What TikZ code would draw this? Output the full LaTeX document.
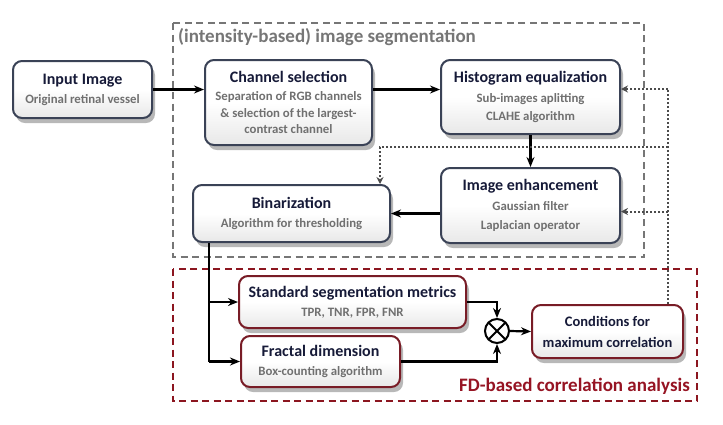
\documentclass[tikz,border=0pt]{standalone}
\usepackage{fontspec}
\setmainfont{Carlito}
\usetikzlibrary{arrows.meta,shadows,calc}
\definecolor{navy}{RGB}{22,26,56}
\definecolor{subgray}{RGB}{112,112,112}
\definecolor{blueborder}{RGB}{58,66,86}
\definecolor{redborder}{RGB}{120,28,38}
\definecolor{reddash}{RGB}{140,22,32}
\definecolor{redtitle}{RGB}{150,20,35}
\definecolor{graydash}{RGB}{118,118,118}
\definecolor{dotgray}{RGB}{75,75,75}
\newcommand{\ttlf}{\fontsize{16}{19}\selectfont\bfseries\color{navy}}
\newcommand{\subf}{\fontsize{12.8}{18}\selectfont\bfseries\color{subgray}}
\tikzset{
  boxbase/.style={rounded corners=9pt, inner sep=0pt, align=center,
    font=\fontsize{12.8}{18}\selectfont,
    top color=white, bottom color=black!9, middle color=white,
    line width=2pt,
    drop shadow={shadow xshift=3pt, shadow yshift=-5pt, fill=black, opacity=0.28}},
  bluebox/.style={boxbase, draw=blueborder},
  redbox/.style={boxbase, draw=redborder},
  arr/.style={line width=2.2pt, -{Stealth[length=10pt,width=8pt]}},
  plain/.style={line width=2.2pt},
  dotarr/.style={dotgray, line width=2pt, dash pattern=on 2pt off 2pt, -{Stealth[length=7pt,width=7pt,fill=dotgray!70]}},
  dotline/.style={dotgray, line width=2pt, dash pattern=on 2pt off 2pt},
  groupbox/.style={line width=1.6pt, dash pattern=on 7pt off 4.5pt},
}
\begin{document}
\begin{tikzpicture}[x=1pt,y=-1pt]
\useasboundingbox (0,0) rectangle (723,424);
\node[fill=white, inner sep=0pt, minimum width=723pt, minimum height=424pt] (bg) at (361.5,212) {};

% group frames
\draw[groupbox, draw=graydash] (173,23) rectangle (644,257);
\node[anchor=west, font=\fontsize{19}{21}\selectfont\bfseries, text=graydash, inner sep=0pt] (gt) at (178,37) {(intensity-based) image segmentation};
\draw[groupbox, draw=reddash] (173,269) rectangle (697,401);
\node[anchor=east, font=\fontsize{19}{21}\selectfont\bfseries, text=redtitle, inner sep=0pt] (ft) at (690,386) {FD-based correlation analysis};

% boxes
\node[bluebox, minimum width=139pt, minimum height=57pt] (in) at (82.5,89.5)
  {{\ttlf Input Image}\\[1pt]{\subf Original retinal vessel}};
\node[bluebox, minimum width=167pt, minimum height=85pt] (ch) at (288.5,102.5)
  {{\ttlf Channel selection}\\[0pt]{\subf Separation of RGB channels}\\[-1.5pt]{\subf \& selection of the largest-}\\[-1.5pt]{\subf contrast channel}};
\node[bluebox, minimum width=179pt, minimum height=74pt] (hist) at (530.5,97)
  {{\ttlf Histogram equalization}\\[1.5pt]{\subf Sub-images aplitting}\\{\subf CLAHE algorithm}};
\node[bluebox, minimum width=179pt, minimum height=75pt] (enh) at (530.5,205.5)
  {{\ttlf Image enhancement}\\[2pt]{\subf Gaussian filter}\\[1pt]{\subf Laplacian operator}};
\node[bluebox, minimum width=197pt, minimum height=57pt] (bin) at (291.5,213.5)
  {{\ttlf Binarization}\\[1.5pt]{\subf Algorithm for thresholding}};
\node[redbox, minimum width=227pt, minimum height=52pt] (std) at (352.5,302)
  {{\ttlf Standard segmentation metrics}\\[1.5pt]{\subf TPR, TNR, FPR, FNR}};
\node[redbox, minimum width=159pt, minimum height=51pt] (fd) at (320.5,361.5)
  {{\ttlf Fractal dimension}\\[1pt]{\subf Box-counting algorithm}};
\node[redbox, minimum width=151pt, minimum height=53pt, font=\fontsize{14.5}{21}\selectfont\bfseries, text=navy] (cond) at (607.5,331.5)
  {Conditions for\\maximum correlation};
\node[circle, draw, line width=2pt, minimum size=24pt, inner sep=0pt, fill=white,
  path picture={\draw[line width=2pt]
    (path picture bounding box.north west) -- (path picture bounding box.south east)
    (path picture bounding box.north east) -- (path picture bounding box.south west);}]
  (ot) at (497,331) {};

% main flow
\draw[arr] (in.east) -- (in.east -| ch.west);
\draw[arr] (ch.east |- in.east) -- (hist.west |- in.east);
\draw[arr] (hist.south) -- (enh.north);
\draw[arr] (enh.west |- bin.east) -- (bin.east);
\coordinate (bdown) at ([xshift=17pt]bin.south west);
\coordinate (bend) at (bdown |- fd.west);
\draw[plain] (bdown) -- (bend);
\draw[arr] (bdown |- std.west) -- (std.west);
\draw[arr] (bend) -- (fd.west);
\draw[arr] (std.east) -| (ot.north);
\draw[arr] (fd.east) -| (ot.south);
\draw[arr] (ot.east) -- (cond.west);

% feedback (dotted)
\coordinate (dtop) at ([xshift=-16pt]cond.north east);
\coordinate (htarget) at ([yshift=8pt]hist.east);
\coordinate (etarget) at ([yshift=-6pt]enh.east);
\coordinate (bmid) at (dtop |- 0,147);
\coordinate (btarget) at ([xshift=-11pt]bin.north east);
\draw[dotline] (dtop) -- (dtop |- htarget);
\draw[dotarr] (dtop |- htarget) -- (htarget);
\draw[dotarr] (dtop |- etarget) -- (etarget);
\draw[dotarr] (bmid) -| (btarget);
\end{tikzpicture}
\end{document}
